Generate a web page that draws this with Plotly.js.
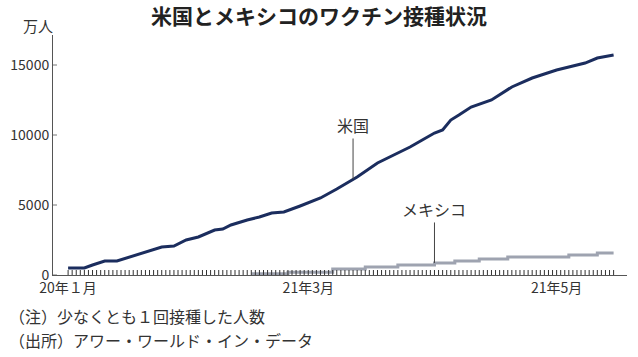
<!DOCTYPE html>
<html>
<head>
<meta charset="utf-8">
<script src="https://cdn.plot.ly/plotly-3.0.1.min.js"></script>
<style>html,body{margin:0;padding:0;background:#fff;}#chart{width:638px;height:357px;}</style>
</head>
<body>
<div id="chart"></div>
<script>
// 米国: 少なくとも1回接種した人数（万人）
const usDates = ['2021-01-01','2021-01-05','2021-01-07','2021-01-10','2021-01-13','2021-01-17','2021-01-20','2021-01-24','2021-01-27','2021-01-30','2021-02-02','2021-02-06','2021-02-08','2021-02-10','2021-02-14','2021-02-17','2021-02-20','2021-02-23','2021-02-27','2021-03-04','2021-03-08','2021-03-12','2021-03-13','2021-03-18','2021-03-22','2021-03-26','2021-03-29','2021-04-01','2021-04-03','2021-04-05','2021-04-07','2021-04-10','2021-04-15','2021-04-20','2021-04-25','2021-05-01','2021-05-08','2021-05-11','2021-05-15'];
const usValues = [500,500,714,1000,1000,1357,1643,2000,2071,2500,2714,3214,3286,3571,3929,4143,4429,4500,4929,5500,6140,6857,7000,8000,8570,9143,9640,10140,10360,11070,11430,12000,12500,13430,14070,14640,15140,15500,15710];

// メキシコ（万人）
const mxDates = ['2021-02-15','2021-02-24','2021-03-07','2021-03-15','2021-03-23','2021-04-01','2021-04-06','2021-04-12','2021-04-19','2021-05-04','2021-05-11','2021-05-15'];
const mxValues = [90,200,430,570,715,860,1000,1140,1290,1430,1570,1570];

// 目盛り
const tickStart = '2021-01-01';
const tickEnd = '2021-05-15';
const tickLabelDates = ['2021-01-01','2021-03-01','2021-05-01'];
const tickLabels = ['20年１月','21年3月','21年5月'];
const yTicks = [0,5000,10000,15000];
const yTickLabels = ['0','5000','10000','15000'];

const seriesNames = ['米国','メキシコ'];
const usLabelIndex = 21;
const mxLabelIndex = 5;

// daily tick positions (one per day between tickStart and tickEnd)
const dayTicks = [];
{
  let d = new Date(tickStart + 'T00:00:00Z');
  const end = new Date(tickEnd + 'T00:00:00Z');
  while (d <= end) { dayTicks.push(d.toISOString().slice(0,10)); d = new Date(d.getTime() + 86400000); }
}

const FONT = '"Noto Sans CJK JP", "Noto Sans", sans-serif';
const xRange = ['2020-12-28 07:00', '2021-05-18 07:00'];
const yRange = [0, 17143];

// tick marks drawn as pixel-sized shapes standing on the axes
const tickShapes = [];
dayTicks.forEach(d => tickShapes.push({
  type: 'line', xref: 'x', yref: 'paper', ysizemode: 'pixel', yanchor: 0,
  x0: d, x1: d, y0: 0, y1: 5, line: {color: '#333', width: 1}, layer: 'above'
}));
yTicks.forEach(v => tickShapes.push({
  type: 'line', xref: 'paper', yref: 'y', xsizemode: 'pixel', xanchor: 0,
  x0: 0, x1: 4, y0: v, y1: v, line: {color: '#777', width: 1}, layer: 'above'
}));

const traces = [
  {x: mxDates, y: mxValues, type: 'scatter', mode: 'lines', name: seriesNames[1],
   line: {color: '#9ea3b0', width: 3, shape: 'hv'}},
  {x: usDates, y: usValues, type: 'scatter', mode: 'lines', name: seriesNames[0],
   line: {color: '#1b2d5e', width: 3}}
];

const layout = {
  width: 638, height: 357,
  margin: {l: 53, r: 11, t: 35, b: 82},
  paper_bgcolor: '#fff', plot_bgcolor: 'rgba(0,0,0,0)',
  showlegend: false,
  font: {family: FONT, color: '#333'},
  title: {text: '米国とメキシコのワクチン接種状況', font: {family: FONT, size: 21, color: '#222', weight: 'bold'},
          x: 0.5, xref: 'container', xanchor: 'center', y: 0.952, yref: 'container', yanchor: 'middle'},
  xaxis: {
    type: 'date', range: xRange, autorange: false,
    tickmode: 'array', tickvals: tickLabelDates, ticktext: tickLabels, ticks: '',
    showline: true, linecolor: '#555', linewidth: 1,
    showgrid: false, zeroline: false, tickangle: 0,
    tickfont: {family: FONT, size: 14, color: '#333'}
  },
  yaxis: {
    range: yRange, autorange: false, tickmode: 'array', tickvals: yTicks, ticktext: yTickLabels, ticks: '',
    showline: true, linecolor: '#555', linewidth: 1,
    showgrid: false, zeroline: false,
    tickfont: {family: FONT, size: 14, color: '#333'}
  },
  shapes: tickShapes,
  annotations: [
    {x: usDates[usLabelIndex], y: usValues[usLabelIndex], text: seriesNames[0],
     showarrow: true, arrowhead: 0, arrowwidth: 1, arrowcolor: '#444', ax: 0, ay: -54, standoff: 0,
     font: {family: FONT, size: 16, color: '#333'}},
    {x: mxDates[mxLabelIndex], y: mxValues[mxLabelIndex], text: seriesNames[1],
     showarrow: true, arrowhead: 0, arrowwidth: 1, arrowcolor: '#444', ax: 0, ay: -54, standoff: 0,
     font: {family: FONT, size: 16, color: '#333'}},
    {xref: 'paper', yref: 'paper', x: -0.027, y: 1.0375, xanchor: 'center', yanchor: 'middle',
     text: '万人', showarrow: false, font: {family: FONT, size: 15, color: '#333'}},
    {xref: 'paper', yref: 'paper', x: -0.080, y: -0.171, xanchor: 'left', yanchor: 'middle',
     text: '（注）少なくとも１回接種した人数', showarrow: false, font: {family: FONT, size: 16, color: '#333'}},
    {xref: 'paper', yref: 'paper', x: -0.080, y: -0.271, xanchor: 'left', yanchor: 'middle',
     text: '（出所）アワー・ワールド・イン・データ', showarrow: false, font: {family: FONT, size: 16, color: '#333'}}
  ]
};

Plotly.newPlot('chart', traces, layout, {displayModeBar: false, staticPlot: true});
</script>
</body>
</html>
